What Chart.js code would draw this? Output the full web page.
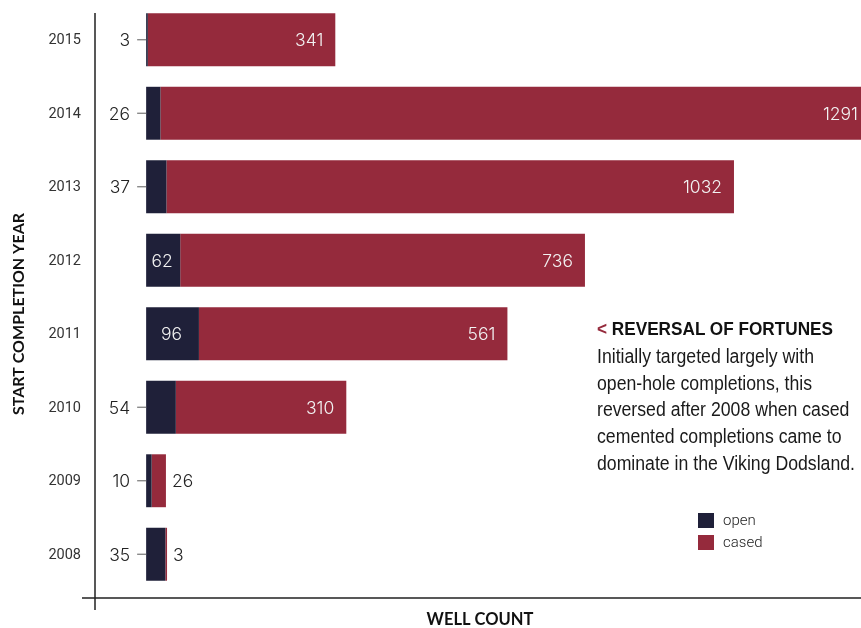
<!DOCTYPE html>
<html>
<head>
<meta charset="utf-8">
<script src="https://cdn.jsdelivr.net/npm/chart.js@4"></script>
<style>
  html, body { margin: 0; padding: 0; background: #fff; }
  #wrap { position: relative; width: 861px; height: 628px; }
  #note { position: absolute; left: 597px; top: 317px; font-family: "Liberation Sans", Arial, sans-serif; color: #1a1a1a; }
  #note div { white-space: nowrap; transform-origin: 0 50%; width: max-content; }
  #note .head { font-weight: bold; font-size: 19px; line-height: 24px; height: 24px; margin-bottom: 2px; color: #111; }
  #note .head span { color: #952a3c; }
  #note .txt { font-size: 20px; line-height: 26.7px; height: 26.7px; }
</style>
</head>
<body>
<div id="wrap">
  <canvas id="chart" width="861" height="628"></canvas>
  <div id="note">
    <div class="head"><span>&lt;</span> REVERSAL OF FORTUNES</div>
    <div class="txt">Initially targeted largely with</div>
    <div class="txt">open-hole completions, this</div>
    <div class="txt">reversed after 2008 when cased</div>
    <div class="txt">cemented completions came to</div>
    <div class="txt">dominate in the Viking Dodsland.</div>
  </div>
</div>
<script>
// data
const years = ["2015", "2014", "2013", "2012", "2011", "2010", "2009", "2008"];
const openWells = [3, 26, 37, 62, 96, 54, 10, 35];
const casedWells = [341, 1291, 1032, 736, 561, 310, 26, 3];

const navy = "#1f2039";
const wine = "#952a3c";
const numFont = "300 17.5px Inter, Roboto, sans-serif";

// squeeze the note text to the narrow widths of the original
(function () {
  const head = document.querySelector("#note .head");
  const lines = document.querySelectorAll("#note .txt");
  const hs = 236 / head.getBoundingClientRect().width;
  head.style.transform = "scaleX(" + hs + ")";
  const ref = lines[lines.length - 1];
  const ts = 258 / ref.getBoundingClientRect().width;
  lines.forEach(l => { l.style.transform = "scaleX(" + ts + ")"; });
})();

// labels, axes lines, legend and titles
const drawExtras = {
  id: "drawExtras",
  afterDatasetsDraw(chart) {
    const ctx = chart.ctx;
    const area = chart.chartArea;
    ctx.save();
    // axis lines
    ctx.strokeStyle = "#222";
    ctx.lineWidth = 1.5;
    ctx.beginPath();
    ctx.moveTo(95, 13); ctx.lineTo(95, 610);
    ctx.moveTo(82, 598); ctx.lineTo(861, 598);
    ctx.stroke();

    const openMeta = chart.getDatasetMeta(0);
    const casedMeta = chart.getDatasetMeta(1);
    ctx.textBaseline = "middle";
    ctx.font = numFont;
    openMeta.data.forEach((bar, i) => {
      const w = bar.x - bar.base;
      const y = bar.y;
      if (w >= 32) {
        ctx.fillStyle = "#f2f2f2";
        ctx.textAlign = "center";
        ctx.fillText(openWells[i], (bar.x + bar.base) / 2 - 1, y + 1);
      } else {
        ctx.strokeStyle = "#777";
        ctx.lineWidth = 1.2;
        ctx.beginPath();
        ctx.moveTo(bar.base - 9, y); ctx.lineTo(bar.base, y);
        ctx.stroke();
        ctx.fillStyle = "#222";
        ctx.textAlign = "right";
        ctx.fillText(openWells[i], bar.base - 16, y + 1);
      }
    });
    casedMeta.data.forEach((bar, i) => {
      const w = bar.x - bar.base;
      const y = bar.y;
      if (w >= 32) {
        ctx.fillStyle = "#f2f2f2";
        ctx.textAlign = "right";
        ctx.fillText(casedWells[i], Math.min(bar.x - 12, area.right - 3), y + 1);
      } else {
        ctx.fillStyle = "#222";
        ctx.textAlign = "left";
        ctx.fillText(casedWells[i], bar.x + 6, y + 1);
      }
    });

    // year labels
    ctx.font = "400 14.5px Roboto, sans-serif";
    ctx.fillStyle = "#333";
    ctx.textAlign = "right";
    const yScale = chart.scales.y;
    years.forEach((yr, i) => {
      ctx.fillText(yr, 81, yScale.getPixelForValue(i) + 1);
    });

    // legend
    ctx.font = "300 15px Roboto, sans-serif";
    ctx.textAlign = "left";
    chart.data.datasets.forEach((ds, i) => {
      const top = 513 + i * 22;
      ctx.fillStyle = ds.backgroundColor;
      ctx.fillRect(698, top, 16, 15);
      ctx.fillStyle = "#222";
      ctx.fillText(ds.label, 723, top + 8);
    });

    // axis titles
    ctx.fillStyle = "#111";
    ctx.font = "bold 16.5px Lato, sans-serif";
    ctx.textAlign = "center";
    ctx.fillText("WELL COUNT", 480, 620);
    ctx.save();
    ctx.translate(19, 314);
    ctx.rotate(-Math.PI / 2);
    ctx.font = "bold 16px Lato, sans-serif";
    ctx.fillText("START COMPLETION YEAR", 0, 0);
    ctx.restore();
    ctx.restore();
  }
};

const dataChart = {
  labels: years,
  datasets: [
    { label: "open", data: openWells, backgroundColor: navy, barPercentage: 0.72, categoryPercentage: 1 },
    { label: "cased", data: casedWells, backgroundColor: wine, barPercentage: 0.72, categoryPercentage: 1 }
  ]
};

const configChart = {
  type: "bar",
  data: dataChart,
  options: {
    indexAxis: "y",
    responsive: false,
    animation: false,
    layout: { padding: { left: 95, right: 0, top: 3, bottom: 37 } },
    plugins: { legend: { display: false }, tooltip: { enabled: false } },
    scales: {
      x: { stacked: true, min: -93, max: 1300, display: false },
      y: { stacked: true, display: false }
    }
  },
  plugins: [drawExtras]
};

const wellChart = new Chart(document.getElementById("chart").getContext("2d"), configChart);
</script>
</body>
</html>
